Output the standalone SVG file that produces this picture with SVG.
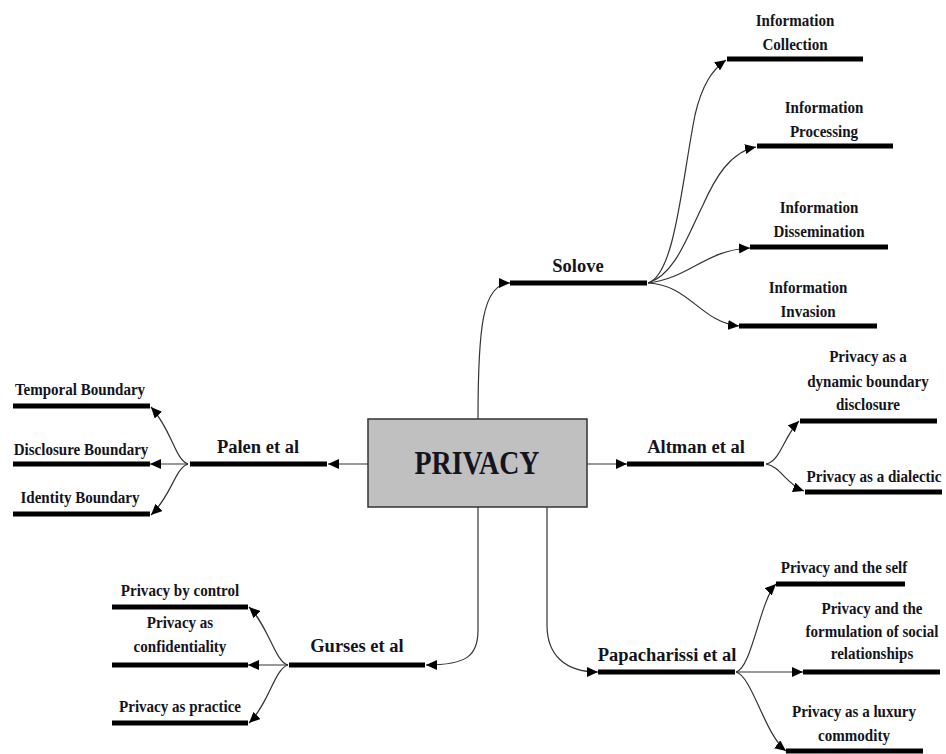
<svg xmlns="http://www.w3.org/2000/svg" width="946" height="754" viewBox="0 0 946 754">
<style>
text{font-family:"Liberation Serif","Times New Roman",serif;font-weight:bold;fill:#141420;text-anchor:middle}
.leaf{font-size:17.5px}
.mid{font-size:18.5px}
.bar{stroke:#000;stroke-width:5;fill:none}
.con{stroke:#333;stroke-width:1.2;fill:none;marker-end:url(#ah)}
</style>
<defs>
<marker id="ah" markerUnits="userSpaceOnUse" markerWidth="12" markerHeight="10" refX="11" refY="5" orient="auto">
<path d="M0,0 L11,5 L0,10 Z" fill="#000"/>
</marker>
</defs>
<rect width="946" height="754" fill="#fff"/>
<g id="connectors">
<path class="con" d="M478,419 C478,330 482,283 510,283"/>
<path class="con" d="M368,464 L328,464"/>
<path class="con" d="M587,464 L627,464"/>
<path class="con" d="M478,507 L478,630 C478,655 468,665 426,665"/>
<path class="con" d="M547,507 L547,625 C547,655 565,672 598,672"/>
<path class="con" d="M648,283 C675,275 682,180 695,115 C702,85 712,70 726,60"/>
<path class="con" d="M648,283 C675,275 688,235 703,205 C715,178 730,152 756,147"/>
<path class="con" d="M648,283 C690,278 705,250 750,248"/>
<path class="con" d="M648,283 C690,285 700,322 739,326"/>
<path class="con" d="M188,464 C175,460 172,430 151,407"/>
<path class="con" d="M188,464 L150,464"/>
<path class="con" d="M188,464 C175,468 172,495 151,515"/>
<path class="con" d="M766,464 C780,462 784,436 799,421"/>
<path class="con" d="M766,464 C780,466 787,485 804,491"/>
<path class="con" d="M288,665 C275,662 268,625 249,607"/>
<path class="con" d="M288,665 L248,665"/>
<path class="con" d="M288,665 C275,668 268,705 249,723"/>
<path class="con" d="M736,672 C752,668 760,600 776,584"/>
<path class="con" d="M736,672 L803,672"/>
<path class="con" d="M736,672 C752,676 765,735 786,751"/>
</g>
<g id="privacy">
<rect x="368" y="419" width="219" height="88" fill="#c0c0c0" stroke="#333" stroke-width="1.5"/>
<text x="477" y="474" font-size="33" textLength="125" lengthAdjust="spacingAndGlyphs">PRIVACY</text>
</g>
<g id="solove"><line class="bar" x1="510" y1="283" x2="647" y2="283"/><text class="mid" x="578" y="272">Solove</text></g>
<g id="info-collection"><line class="bar" x1="727" y1="59" x2="863" y2="59"/><text class="leaf" transform="translate(795,26) scale(0.86,1)">Information</text><text class="leaf" transform="translate(795,50) scale(0.86,1)">Collection</text></g>
<g id="info-processing"><line class="bar" x1="757" y1="146" x2="893" y2="146"/><text class="leaf" transform="translate(824,113) scale(0.86,1)">Information</text><text class="leaf" transform="translate(824,137) scale(0.86,1)">Processing</text></g>
<g id="info-dissemination"><line class="bar" x1="750" y1="247" x2="888" y2="247"/><text class="leaf" transform="translate(819,213) scale(0.86,1)">Information</text><text class="leaf" transform="translate(819,237) scale(0.86,1)">Dissemination</text></g>
<g id="info-invasion"><line class="bar" x1="739" y1="326" x2="877" y2="326"/><text class="leaf" transform="translate(808,293) scale(0.86,1)">Information</text><text class="leaf" transform="translate(808,317) scale(0.86,1)">Invasion</text></g>
<g id="palen"><line class="bar" x1="190" y1="464" x2="327" y2="464"/><text class="mid" x="258" y="453">Palen et al</text></g>
<g id="temporal"><line class="bar" x1="13" y1="406" x2="150" y2="406"/><text class="leaf" transform="translate(80,395) scale(0.86,1)">Temporal Boundary</text></g>
<g id="disclosure"><line class="bar" x1="13" y1="464" x2="150" y2="464"/><text class="leaf" transform="translate(81,455) scale(0.86,1)">Disclosure Boundary</text></g>
<g id="identity"><line class="bar" x1="13" y1="514" x2="150" y2="514"/><text class="leaf" transform="translate(80,503) scale(0.86,1)">Identity Boundary</text></g>
<g id="altman"><line class="bar" x1="627" y1="464" x2="764" y2="464"/><text class="mid" x="696" y="453">Altman et al</text></g>
<g id="dynamic"><line class="bar" x1="800" y1="421" x2="937" y2="421"/><text class="leaf" transform="translate(868,362) scale(0.86,1)">Privacy as a</text><text class="leaf" transform="translate(868,387) scale(0.86,1)">dynamic boundary</text><text class="leaf" transform="translate(868,410) scale(0.86,1)">disclosure</text></g>
<g id="dialectic"><line class="bar" x1="805" y1="492" x2="942" y2="492"/><text class="leaf" transform="translate(874,482) scale(0.86,1)">Privacy as a dialectic</text></g>
<g id="gurses"><line class="bar" x1="289" y1="665" x2="425" y2="665"/><text class="mid" x="357" y="652">Gurses et al</text></g>
<g id="control"><line class="bar" x1="112" y1="607" x2="248" y2="607"/><text class="leaf" transform="translate(180,596) scale(0.86,1)">Privacy by control</text></g>
<g id="confidentiality"><line class="bar" x1="112" y1="665" x2="248" y2="665"/><text class="leaf" transform="translate(180,628) scale(0.86,1)">Privacy as</text><text class="leaf" transform="translate(180,652) scale(0.86,1)">confidentiality</text></g>
<g id="practice"><line class="bar" x1="112" y1="723" x2="248" y2="723"/><text class="leaf" transform="translate(180,712) scale(0.86,1)">Privacy as practice</text></g>
<g id="papacharissi"><line class="bar" x1="598" y1="672" x2="735" y2="672"/><text class="mid" x="667" y="661">Papacharissi et al</text></g>
<g id="self"><line class="bar" x1="776" y1="584" x2="905" y2="584"/><text class="leaf" transform="translate(844,573) scale(0.86,1)">Privacy and the self</text></g>
<g id="formulation"><line class="bar" x1="803" y1="672" x2="940" y2="672"/><text class="leaf" transform="translate(872,614) scale(0.86,1)">Privacy and the</text><text class="leaf" transform="translate(872,637) scale(0.86,1)">formulation of social</text><text class="leaf" transform="translate(872,659) scale(0.86,1)">relationships</text></g>
<g id="luxury"><line class="bar" x1="786" y1="751" x2="923" y2="751"/><text class="leaf" transform="translate(854,717) scale(0.86,1)">Privacy as a luxury</text><text class="leaf" transform="translate(854,741) scale(0.86,1)">commodity</text></g>
</svg>
